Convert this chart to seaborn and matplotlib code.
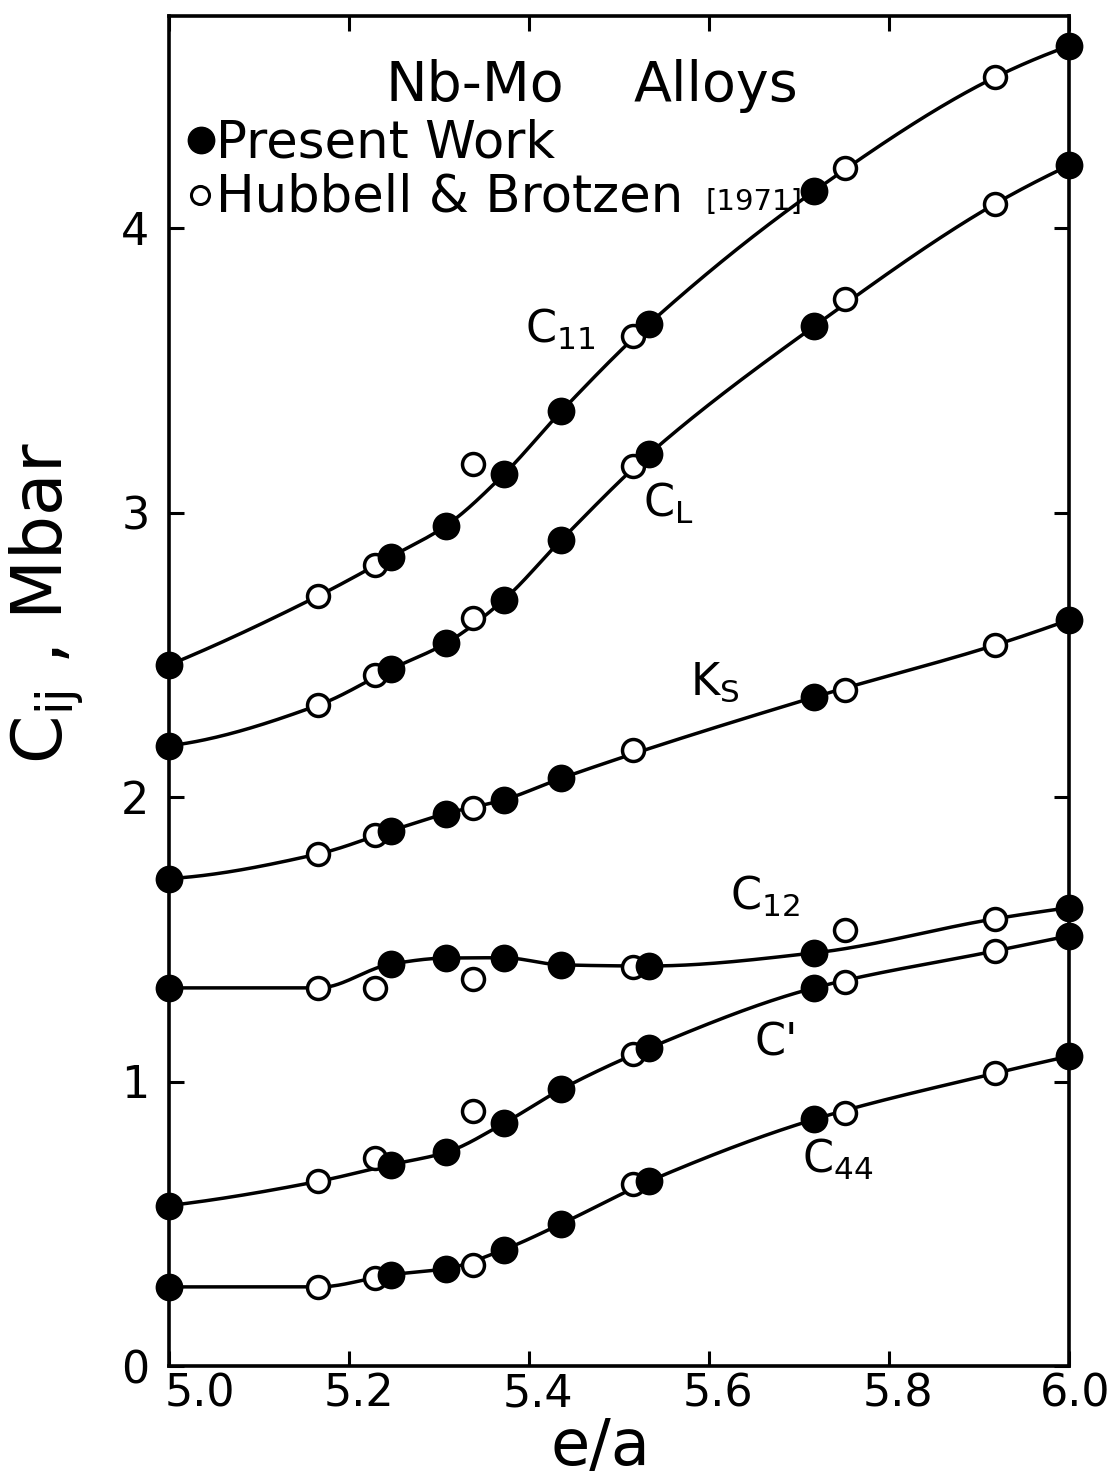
import numpy as np
import pandas as pd
import matplotlib
matplotlib.use("Agg")
import matplotlib.pyplot as plt
import matplotlib.transforms as mtrans
import seaborn as sns

# Electron-to-atom ratio of the alloys
ea_present = [5.0, 5.247, 5.308, 5.372, 5.436, 5.533, 5.717, 6.0]
ea_hubbell = [5.166, 5.229, 5.338, 5.516, 5.751, 5.918]

# Elastic moduli (Mbar), present work
c11_present = [2.464, 2.845, 2.954, 3.134, 3.356, 3.662, 4.130, 4.640]
cl_present = [2.180, 2.450, 2.541, 2.693, 2.904, 3.204, 3.655, 4.220]
ks_present = [1.713, 1.882, 1.942, 1.990, 2.066, np.nan, 2.351, 2.622]
c12_present = [1.329, 1.413, 1.434, 1.435, 1.410, 1.406, 1.452, 1.611]
cp_present = [0.564, 0.708, 0.751, 0.853, 0.973, 1.117, 1.329, 1.512]
c44_present = [0.278, 0.321, 0.342, 0.409, 0.500, 0.649, 0.867, 1.089]

# Elastic moduli (Mbar), Hubbell & Brotzen (1971)
c11_hubbell = [2.707, 2.815, 3.172, 3.620, 4.210, 4.530]
cl_hubbell = [2.323, 2.430, 2.628, 3.165, 3.750, 4.085]
ks_hubbell = [1.800, 1.865, 1.963, 2.164, 2.376, 2.534]
c12_hubbell = [1.329, 1.329, 1.360, 1.403, 1.533, 1.572]
cp_hubbell = [0.649, 0.730, 0.895, 1.096, 1.350, 1.459]
c44_hubbell = [0.278, 0.310, 0.356, 0.638, 0.888, 1.029]

moduli = ["C11", "CL", "KS", "C12", "Cp", "C44"]
present = dict(zip(moduli, [c11_present, cl_present, ks_present,
                            c12_present, cp_present, c44_present]))
hubbell = dict(zip(moduli, [c11_hubbell, cl_hubbell, ks_hubbell,
                            c12_hubbell, cp_hubbell, c44_hubbell]))

curve_labels = {
    "C11": r"$\mathregular{C_{11}}$",
    "CL": r"$\mathregular{C_{L}}$",
    "KS": r"$\mathregular{K_{S}}$",
    "C12": r"$\mathregular{C_{12}}$",
    "Cp": "C'",
    "C44": r"$\mathregular{C_{44}}$",
}
label_pos = {
    "C11": (5.396, 3.596),
    "CL": (5.527, 2.984),
    "KS": (5.579, 2.359),
    "C12": (5.623, 1.603),
    "Cp": (5.651, 1.093),
    "C44": (5.703, 0.678),
}

x_ticks = [5.0, 5.2, 5.4, 5.6, 5.8, 6.0]
x_ticklabels = ["5.0", "5.2", "5.4", "5.6", "5.8", "6.0"]
y_ticks = [0, 1, 2, 3, 4]
y_ticklabels = ["0", "1", "2", "3", "4"]


def pchip(x, y, xs):
    """Shape-preserving cubic through (x, y), evaluated at xs."""
    x = np.asarray(x, float)
    y = np.asarray(y, float)
    h = np.diff(x)
    d = np.diff(y) / h
    n = len(x)
    m = np.zeros(n)
    for k in range(1, n - 1):
        if d[k - 1] * d[k] > 0:
            w1 = 2 * h[k] + h[k - 1]
            w2 = h[k] + 2 * h[k - 1]
            m[k] = (w1 + w2) / (w1 / d[k - 1] + w2 / d[k])

    def end_slope(h0, h1, d0, d1):
        s = ((2 * h0 + h1) * d0 - h0 * d1) / (h0 + h1)
        if np.sign(s) != np.sign(d0):
            return 0.0
        if np.sign(d0) != np.sign(d1) and abs(s) > abs(3 * d0):
            return 3 * d0
        return s

    m[0] = end_slope(h[0], h[1], d[0], d[1])
    m[-1] = end_slope(h[-1], h[-2], d[-1], d[-2])
    i = np.clip(np.searchsorted(x, xs) - 1, 0, n - 2)
    t = (xs - x[i]) / h[i]
    h00 = 2 * t**3 - 3 * t**2 + 1
    h10 = t**3 - 2 * t**2 + t
    h01 = -2 * t**3 + 3 * t**2
    h11 = t**3 - t**2
    return h00 * y[i] + h10 * h[i] * m[i] + h01 * y[i + 1] + h11 * h[i] * m[i + 1]


# Long-form table of the measured points
rows = []
for mod in moduli:
    for xv, yv in zip(ea_present, present[mod]):
        if not np.isnan(yv):
            rows.append((mod, xv, yv, "present"))
    for xv, yv in zip(ea_hubbell, hubbell[mod]):
        rows.append((mod, xv, yv, "hubbell"))
points = pd.DataFrame(rows, columns=["modulus", "ea", "value", "source"])

# Smooth guide curves through the present data and the end Hubbell points
xs = np.linspace(5.0, 6.0, 400)
curve_rows = []
for mod in moduli:
    sub = points[(points.modulus == mod) &
                 ((points.source == "present") |
                  (points.ea.isin([ea_hubbell[0], ea_hubbell[-1]])))]
    sub = sub.sort_values("ea")
    ys = pchip(sub.ea.values, sub.value.values, xs)
    curve_rows.append(pd.DataFrame({"modulus": mod, "ea": xs, "value": ys}))
curves = pd.concat(curve_rows, ignore_index=True)

# ---------------------------------------------------------------- figure
sns.set_theme(style="ticks")
plt.rcParams["font.family"] = ["DejaVu Sans"]
plt.rcParams["mathtext.default"] = "regular"
for key in ["text.color", "axes.labelcolor", "xtick.color", "ytick.color",
            "axes.edgecolor"]:
    plt.rcParams[key] = "black"

W, H = 1117, 1477
fig = plt.figure(figsize=(W / 100, H / 100), dpi=100)
ax_l, ax_r, ax_t, ax_b = 169, 1069, 16, 1366
ax = fig.add_axes([ax_l / W, 1 - ax_b / H, (ax_r - ax_l) / W, (ax_b - ax_t) / H])


def fx(px):
    return px / W


def fy(py):
    return 1 - py / H


sns.lineplot(data=curves, x="ea", y="value", units="modulus", estimator=None,
             color="black", linewidth=2.5, ax=ax, zorder=2, legend=False)
sns.scatterplot(data=points[points.source == "hubbell"], x="ea", y="value",
                marker="o", s=250, facecolor="white", edgecolor="black",
                linewidth=2.5, ax=ax, zorder=3, legend=False, clip_on=False)
sns.scatterplot(data=points[points.source == "present"], x="ea", y="value",
                marker="o", s=400, color="black", edgecolor="black",
                linewidth=0, ax=ax, zorder=4, legend=False, clip_on=False)

ax.set_xlim(5.0, 6.0)
ax.set_ylim(0, (ax_b - ax_t) / 284.5)
ax.set_xticks(x_ticks)
ax.set_xticklabels(x_ticklabels)
ax.set_yticks(y_ticks)
ax.set_yticklabels(y_ticklabels)
for sp in ax.spines.values():
    sp.set_visible(True)
    sp.set_linewidth(2.6)
    sp.set_color("black")
ax.tick_params(direction="in", length=11, width=2.2, top=True, right=True,
               labelsize=32, colors="black")
ax.tick_params(axis="y", pad=14)
ax.tick_params(axis="x", pad=5)

# nudge the x tick labels to the right, the first one clear of the "0"
for lab, dx in zip(ax.get_xticklabels(), [31, 10, 9, 9, 9, 6]):
    lab.set_transform(lab.get_transform() +
                      mtrans.ScaledTranslation(dx / 100, 0, fig.dpi_scale_trans))

ax.set_xlabel("e/a", fontsize=46)
ax.xaxis.set_label_coords((600 - ax_l) / (ax_r - ax_l), (ax_b - 1416) / (ax_b - ax_t))
ax.set_ylabel(r"$\mathregular{C_{ij}}$ , Mbar", fontsize=50)
ax.yaxis.set_label_coords((86 - ax_l) / (ax_r - ax_l), (ax_b - 603) / (ax_b - ax_t))

for mod in moduli:
    lx, ly = label_pos[mod]
    ax.text(lx, ly, curve_labels[mod], fontsize=32, ha="left", va="baseline")

# Title and key
fig.text(fx(385), fy(101), "Nb-Mo", fontsize=40, ha="left", va="baseline")
fig.text(fx(634), fy(101), "Alloys", fontsize=40, ha="left", va="baseline")
ax.plot([fx(201)], [fy(140)], "o", ms=19, color="black",
        transform=fig.transFigure, clip_on=False)
fig.text(fx(216), fy(157), "Present Work", fontsize=37, ha="left", va="baseline")
ax.plot([fx(200)], [fy(195)], "o", ms=13, mfc="white", mec="black", mew=2.2,
        transform=fig.transFigure, clip_on=False)
fig.text(fx(216), fy(212), "Hubbell & Brotzen", fontsize=37, ha="left",
         va="baseline")
fig.text(fx(705), fy(210), "[1971]", fontsize=21, ha="left", va="baseline")

fig.savefig("out.png", dpi=100, facecolor="white")
